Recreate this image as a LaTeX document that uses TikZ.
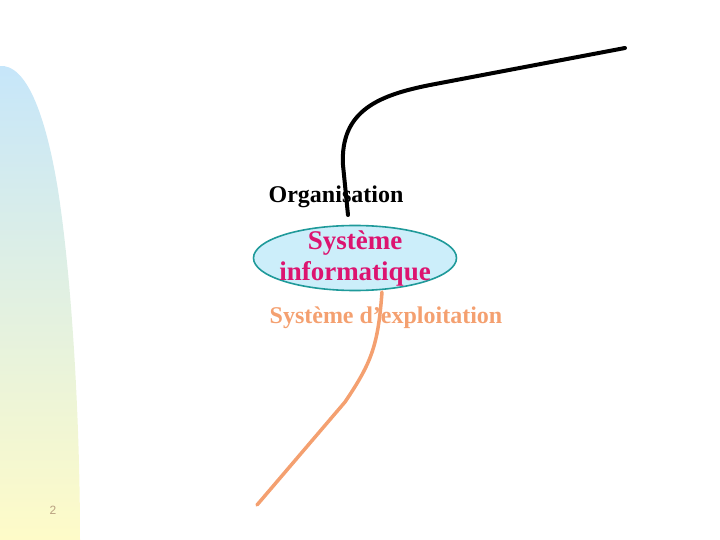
\documentclass[tikz,border=0pt]{standalone}
\usepackage{fontspec}
\setmainfont{Liberation Serif}
\setsansfont{Liberation Sans}
\usetikzlibrary{positioning,calc,shapes.geometric}
\definecolor{bandtop}{HTML}{C6E6FA}
\definecolor{bandbot}{HTML}{FEFBC8}
\definecolor{infofill}{HTML}{CCEEFA}
\definecolor{infoedge}{HTML}{1F9A9A}
\definecolor{infotext}{HTML}{DC1470}
\definecolor{exploit}{HTML}{F4A070}
\definecolor{pagenum}{HTML}{B8A080}

\begin{document}
\begin{tikzpicture}[x=1pt, y=-1pt, semithick, line cap=round]
\tikzstyle{label}=[inner sep=0pt, font=\fontsize{24}{28}\selectfont\bfseries]
\tikzstyle{systeme}=[ellipse, draw=infoedge, fill=infofill, line width=1.6pt, minimum width=203pt, minimum height=65pt, inner xsep=-4pt, inner ysep=-7pt, align=center, text=infotext, font=\fontsize{27}{32}\selectfont\bfseries]
\tikzstyle{link}=[line width=4pt]
\useasboundingbox (0,0) rectangle (720,540);

% bande degradee a gauche
\shade[top color=bandtop, bottom color=bandbot] (0,66) .. controls (25,64) and (45,110) .. (58,190) .. controls (72,280) and (80,420) .. (80,540) -- (0,540) -- cycle;
\node[font=\sffamily\fontsize{12}{14}\selectfont, text=pagenum] (num) at (53,510) {2};

\node[label]    (org) at (336,197)  {Organisation};
\node[systeme]  (si)  at (355,258)  {Système\\[-1pt]informatique};
\node[label, text=exploit] (se) at (386,318) {Système d’exploitation};

\coordinate (orgend)  at (348,215);
\coordinate (orgtail) at (625,48);
\coordinate (sestart) at (382,292);
\coordinate (setail)  at (257,505);

\draw[link] (orgend) -- (343,165) .. controls (340,110) and (380,95) .. (430,85) -- (orgtail);
\draw[link, draw=exploit, line width=3.5pt] (sestart) .. controls (378,345) and (372,362) .. (345,402) -- (setail);
\end{tikzpicture}
\end{document}
